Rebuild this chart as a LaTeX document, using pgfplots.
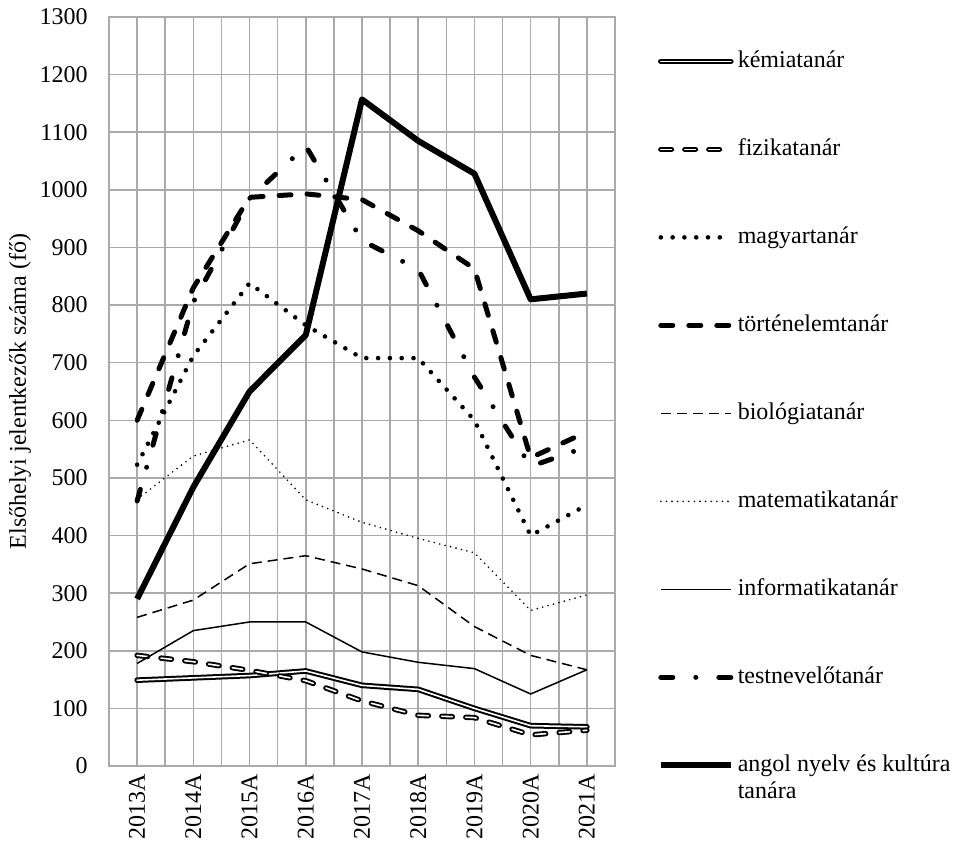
\documentclass[border=0pt]{standalone}
\usepackage{fontspec}
\setmainfont{Liberation Serif}
\usepackage{pgfplots}
\pgfplotsset{compat=1.18}
\usepackage{pgfplotstable}
\definecolor{gridgray}{RGB}{170,170,170}

\pgfplotstableread{
x kemia fizika magyar tortenelem biologia matematika informatika testnevelo angol
0 149 192 523 600 258 463 178 460 290
1 153 181 712 830 288 538 235 805 484
2 157 166 838 987 351 566 250 985 650
3 165 148 765 993 365 462 250 1076 748
4 140 113 708 983 342 423 198 912 1157
5 133 88 708 929 313 395 180 862 1085
6 100 84 600 863 242 370 169 675 1028
7 70 54 400 535 192 270 125 520 810
8 68 62 453 580 167 297 167 554 820
}\data

\begin{document}
\fontsize{12}{14.4}\selectfont
\begin{tikzpicture}
\begin{axis}[
  name=ax,
  scale only axis,
  width=253pt, height=374.5pt,
  xmin=-0.5, xmax=8.5, ymin=0, ymax=1300,
  xtick={0,...,8},
  xticklabels={2013A,2014A,2015A,2016A,2017A,2018A,2019A,2020A,2021A},
  minor xtick={-0.5,0.5,1.5,2.5,3.5,4.5,5.5,6.5,7.5,8.5},
  ytick={0,100,...,1300},
  xmajorgrids, xminorgrids, ymajorgrids,
  major grid style={gridgray, line width=0.75pt},
  minor grid style={gridgray, line width=0.75pt},
  axis line style={gridgray, line width=0.75pt},
  major tick length=0pt, minor tick length=0pt,
  /pgf/number format/assume math mode=true,
  /pgf/number format/1000 sep={},
  xticklabel style={rotate=90, anchor=east},
  yticklabel style={xshift=-6.5pt},
  ylabel={Elsőhelyi jelentkezők száma (fő)},
  every axis y label/.style={at={([xshift=-44.5pt]axis description cs:0,0.5)}, rotate=90, anchor=center},
  legend image code/.code={\draw[#1] (0pt,0pt) -- (35pt,0pt);},
  legend cell align=left,
  legend style={draw=none, fill=none, at={(1.072,0.968)}, anchor=north west,
    row sep=28pt, nodes={inner xsep=2pt, text height=9pt, text depth=3pt}},
]
\addplot[black, line width=1pt, double=white, double distance=0.8pt, line join=round, line cap=round]
  table[x=x, y=kemia] {\data};
\addlegendentry{kémiatanár}
\addplot[black, line width=0.95pt, double=white, double distance=0.8pt, line cap=round, line join=round, dash pattern=on 5.3pt off 6.7pt]
  table[x=x, y=fizika] {\data};
\addlegendentry{fizikatanár}
\addplot[black, line width=2.3pt, line cap=round, dash pattern=on 0pt off 5.9pt]
  table[x=x, y=magyar] {\data};
\addlegendentry{magyartanár}
\addplot[black, line width=2.5pt, line cap=round, dash pattern=on 6pt off 8pt]
  table[x=x, y=tortenelem] {\data};
\addlegendentry{történelemtanár}
\addplot[black, line width=0.75pt, dash pattern=on 5pt off 3pt]
  table[x=x, y=biologia] {\data};
\addlegendentry{biológiatanár}
\addplot[black, line width=0.9pt, line cap=round, dash pattern=on 0pt off 2.8pt]
  table[x=x, y=matematika] {\data};
\addlegendentry{matematikatanár}
\addplot[black, line width=0.75pt]
  table[x=x, y=informatika] {\data};
\addlegendentry{informatikatanár}
\addplot[black, line width=2.5pt, line cap=round, dash pattern=on 6pt off 11.5pt on 0pt off 11.5pt]
  table[x=x, y=testnevelo] {\data};
\addlegendentry{testnevelőtanár}
\addplot[black, line width=3pt, line join=round]
  table[x=x, y=angol] {\data};
\addlegendentry{\makebox[0pt][l]{\raisebox{-13.5pt}[0pt][0pt]{tanára}}angol nyelv és kultúra}
\end{axis}
\pgfresetboundingbox
\path[use as bounding box] ([shift={(-54.5pt,-41pt)}]ax.south west) rectangle ([shift={(424.5pt,383pt)}]ax.south west);
\end{tikzpicture}
\end{document}
